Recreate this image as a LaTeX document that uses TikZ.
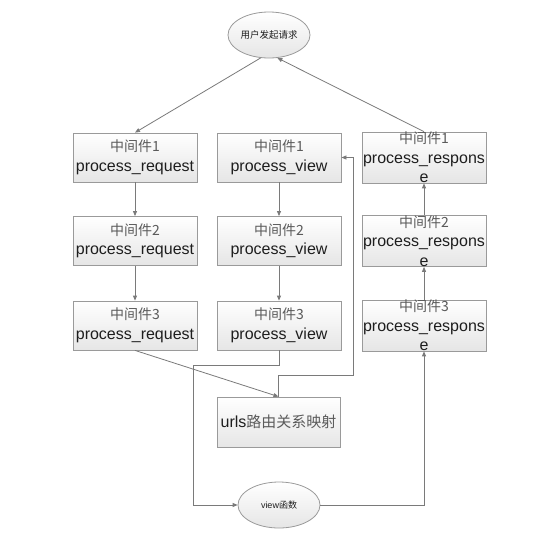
\documentclass[tikz,border=0pt]{standalone}
\usepackage{fontspec}
\setmainfont{Liberation Sans}
\newfontfamily\cjk{Noto Sans CJK SC}
\usetikzlibrary{arrows.meta,shapes.geometric}
\definecolor{lineg}{HTML}{7A7A7A}
\definecolor{boxg}{HTML}{9A9A9A}
\definecolor{cjkg}{HTML}{5A5A5A}
\definecolor{txtd}{HTML}{1E1E1E}
\tikzset{
  mwbox/.style={draw=boxg, line width=0.8pt, top color=white, bottom color=black!10,
    minimum width=124pt, minimum height=49pt, inner sep=0pt, align=center,
    font=\fontsize{16}{19.5}\selectfont, text=txtd},
  oval/.style={ellipse, draw=boxg, line width=0.8pt, top color=white, bottom color=black!10,
    minimum width=82pt, minimum height=46pt, inner sep=0pt, align=center, text=txtd},
  conn/.style={draw=lineg, line width=0.8pt},
  arr/.style={conn, -{Triangle[length=5pt,width=4pt]}},
}
\newcommand{\zh}[1]{{\cjk\fontsize{14}{19.5}\selectfont\color{cjkg}#1}}
\begin{document}
\begin{tikzpicture}[x=1pt,y=-1pt]
\useasboundingbox (0,0) rectangle (554,539);
\fill[white] (0,0) rectangle (554,539);

\node[oval] (start) at (269,35) {\cjk\fontsize{9.5}{11}\selectfont 用户发起请求};

\node[mwbox] (L1) at (135,157.5) {\zh{中间件1}\\process\_request};
\node[mwbox] (L2) at (135,241) {\zh{中间件2}\\process\_request};
\node[mwbox] (L3) at (135,325.5) {\zh{中间件3}\\process\_request};

\node[mwbox] (M1) at (279,157.5) {\zh{中间件1}\\process\_view};
\node[mwbox] (M2) at (279,241) {\zh{中间件2}\\process\_view};
\node[mwbox] (M3) at (279,325.5) {\zh{中间件3}\\process\_view};

\node[mwbox] (R1) at (424,157.5) {\zh{中间件1}\\process\_respons\\e};
\node[mwbox] (R2) at (424,241) {\zh{中间件2}\\process\_respons\\e};
\node[mwbox] (R3) at (424,325.5) {\zh{中间件3}\\process\_respons\\e};

\node[mwbox, minimum width=123pt, minimum height=50pt] (urls) at (278.5,422)
  {urls{\cjk\fontsize{15}{19}\selectfont\color{cjkg}路由关系映射}};

\node[oval] (view) at (279,505) {\fontsize{9}{11}\selectfont view{\cjk 函数}};

\coordinate (a1) at (279,365);
\coordinate (a2) at (193,365);
\coordinate (a3) at (193,505);
\coordinate (b1) at (278.5,375);
\coordinate (b2) at (353,375);
\coordinate (b3) at (353,157.5);
\coordinate (c1) at (424,505);

\draw[arr] (start.250) -- (L1.north);
\draw[arr] (R1.north) -- (start.290);

\draw[arr] (L1) -- (L2);
\draw[arr] (L2) -- (L3);
\draw[arr] (L3.south) -- (urls.north);

\draw[arr] (M1) -- (M2);
\draw[arr] (M2) -- (M3);
\draw[arr] (M3.south) -- (a1) -- (a2) -- (a3) -- (view.west);

\draw[arr] (urls.north) -- (b1) -- (b2) -- (b3) -- (M1.east);

\draw[arr] (view.east) -- (c1) -- (R3.south);
\draw[arr] (R3.north) -- (R2.south);
\draw[arr] (R2.north) -- (R1.south);
\end{tikzpicture}
\end{document}
